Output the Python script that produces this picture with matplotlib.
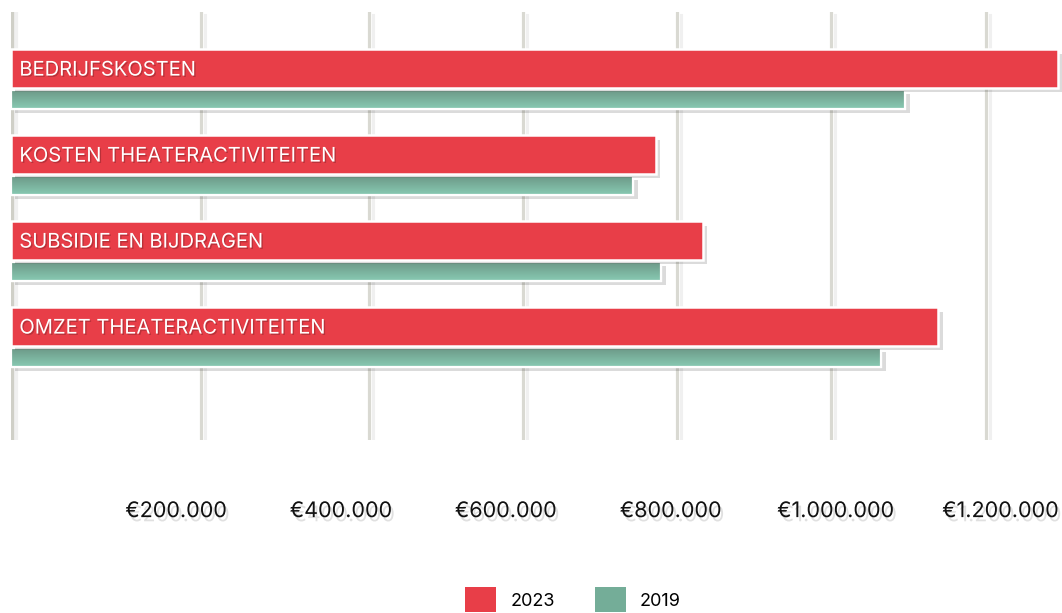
import numpy as np
import matplotlib
matplotlib.use('Agg')
import matplotlib.pyplot as plt
import matplotlib.patheffects as pe
from matplotlib.patches import Patch

plt.rcParams['font.family'] = ['Inter', 'DejaVu Sans']

categories = ['BEDRIJFSKOSTEN', 'KOSTEN THEATERACTIVITEITEN',
              'SUBSIDIE EN BIJDRAGEN', 'OMZET THEATERACTIVITEITEN']
v2023 = [1270000, 782000, 839000, 1125000]
v2019 = [1085000, 755000, 789000, 1056000]
ticks = [200000, 400000, 600000, 800000, 1000000, 1200000]
tick_labels = ['€200.000', '€400.000', '€600.000', '€800.000', '€1.000.000', '€1.200.000']
grid_values = [230000, 434000, 621000, 808000, 995000, 1183000]

red = '#e83e48'
teal = '#7bb9a2'

fig = plt.figure(figsize=(10.62, 6.13), dpi=100)
ax = fig.add_axes([11/1062, 173/613, 1051/1062, 428/613])

shadow = [pe.withSimplePatchShadow(offset=(3, -3), shadow_rgbFace='k', alpha=0.14)]
lshadow = [pe.SimpleLineShadow(offset=(3, -2), shadow_color='k', alpha=0.06), pe.Normal()]

for g in grid_values:
    ax.axvline(g, color='#d9d9d2', lw=2.3, zorder=1, path_effects=lshadow)
ax.axvline(0, color='#cfcfc7', lw=4.5, zorder=1, path_effects=lshadow)

y = np.arange(len(categories))
b19 = ax.barh(y + 0.238, v2019, height=0.225, color=teal, edgecolor='white',
              lw=1.6, zorder=3, path_effects=shadow)
b23 = ax.barh(y - 0.122, v2023, height=0.445, color=red, edgecolor='white',
              lw=1.8, zorder=4, path_effects=shadow)

# gradient on the green bars
grad = np.linspace(0, 1, 50).reshape(-1, 1)
cmap = matplotlib.colors.LinearSegmentedColormap.from_list('g', ['#6b9685', '#88cab3'])
for bar in b19:
    x0, y0 = bar.get_x(), bar.get_y()
    w, h = bar.get_width(), bar.get_height()
    im = ax.imshow(grad, cmap=cmap, aspect='auto', extent=(x0, x0 + w, y0 + h, y0),
                   zorder=3.5, interpolation='bilinear')
    im.set_clip_path(bar)
    ax.barh(y0 + h / 2, w, left=x0, height=h, fill=False, edgecolor='white', lw=1.6, zorder=3.6)

txt_shadow = [pe.withSimplePatchShadow(offset=(1, -1), shadow_rgbFace='k', alpha=0.2)]
for i, c in enumerate(categories):
    ax.annotate(c, (0, y[i] - 0.122), xytext=(6, -1.5), textcoords='offset points',
                va='center', ha='left', color='white', fontsize=14.5,
                zorder=6, path_effects=txt_shadow)

ax.set_xlim(0, 1275000)
ax.set_ylim(4.198, -0.779)
ax.set_xticks(ticks)
ax.set_xticklabels(tick_labels, fontsize=15.5, color='#111111')
for t in ax.get_xticklabels():
    t.set_path_effects([pe.withSimplePatchShadow(offset=(2, -3), shadow_rgbFace='k', alpha=0.12)])
ax.tick_params(axis='x', length=0, pad=44)
ax.set_yticks([])
for s in ax.spines.values():
    s.set_visible(False)

handles = [Patch(facecolor=red, label='2023'), Patch(facecolor='#74ad98', label='2019')]
fig.legend(handles=handles, loc='lower center', bbox_to_anchor=(0.5395, 0.0), ncol=2,
           frameon=False, fontsize=13, handlelength=1.72, handleheight=1.72,
           handletextpad=0.78, columnspacing=2.2, borderpad=0.05, borderaxespad=0)

fig.savefig('out.png', dpi=100)
